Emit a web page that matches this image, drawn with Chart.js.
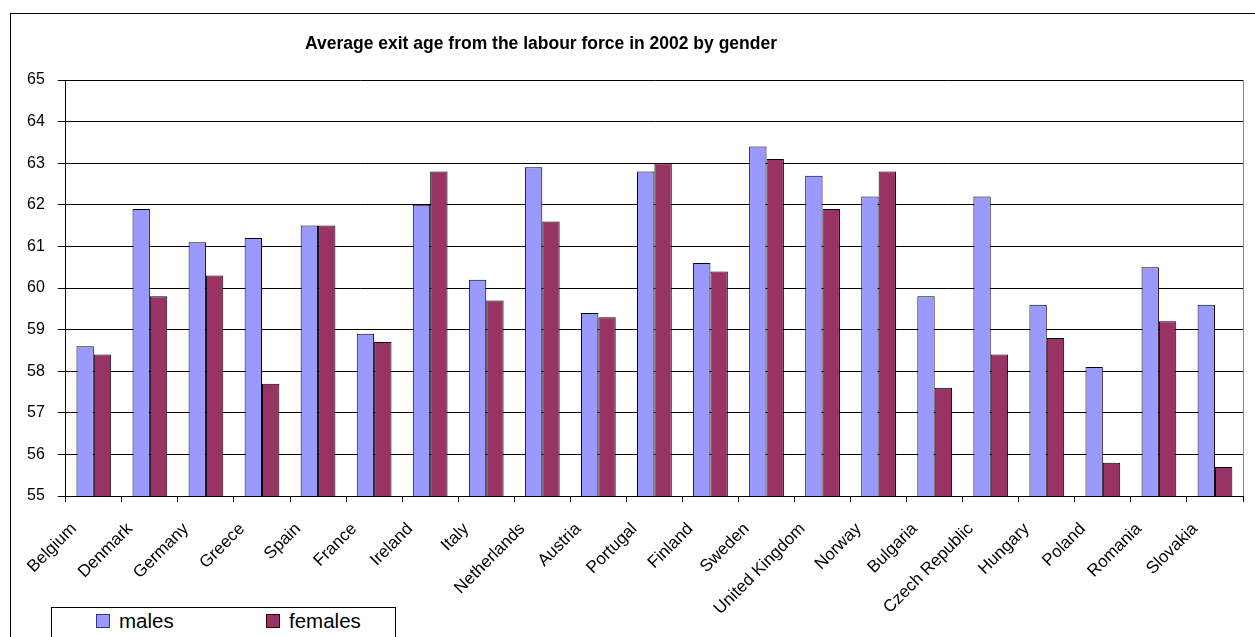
<!DOCTYPE html>
<html>
<head>
<meta charset="utf-8">
<script src="https://cdn.jsdelivr.net/npm/chart.js@4.4.1/dist/chart.umd.min.js"></script>
<style>
  html, body { margin: 0; padding: 0; background: #fff; overflow: hidden; width: 1255px; height: 637px; }
  #frame { position: absolute; left: 10px; top: 13px; width: 1270px; height: 640px; border: 1px solid #000; }
  #wrap { position: absolute; left: 0; top: 0; width: 1260px; height: 640px; }
  #titulo { position: absolute; left: 0; top: 33px; width: 1082px; text-align: center;
            font-family: Arial, "Liberation Sans", sans-serif; font-size: 17.5px; font-weight: bold; color: #000; }
  #legend { position: absolute; left: 51px; top: 607px; width: 343px; height: 40px; border: 1px solid #000; background: #fff;
            font-family: Arial, "Liberation Sans", sans-serif; font-size: 20.5px; color: #000; }
  .item { position: absolute; top: 1px; }
  .sw { display: inline-block; width: 12px; height: 12px; border: 1px solid #000; margin-right: 9px; vertical-align: 0px; }
</style>
</head>
<body>
<div id="frame">
  <div id="wrap"><canvas id="myChart"></canvas></div>
</div>
<div id="titulo">Average exit age from the labour force in 2002 by gender</div>
<div id="legend">
  <span class="item" style="left:44px"><span class="sw" style="background:#9999FF;border-color:#333399"></span>males</span>
  <span class="item" style="left:214px"><span class="sw" style="background:#993366;border-color:#330000"></span>females</span>
</div>
<script>
var paises = ["Belgium", "Denmark", "Germany", "Greece", "Spain", "France", "Ireland", "Italy", "Netherlands", "Austria",
  "Portugal", "Finland", "Sweden", "United Kingdom", "Norway", "Bulgaria", "Czech Republic", "Hungary", "Poland",
  "Romania", "Slovakia"];
var hombres = [58.6, 61.9, 61.1, 61.2, 61.5, 58.9, 62.0, 60.2, 62.9, 59.4, 62.8, 60.6, 63.4, 62.7, 62.2, 59.8, 62.2,
  59.6, 58.1, 60.5, 59.6];
var mujeres = [58.4, 59.8, 60.3, 57.7, 61.5, 58.7, 62.8, 59.7, 61.6, 59.3, 63.0, 60.4, 63.1, 61.9, 62.8, 57.6, 58.4,
  58.8, 55.8, 59.2, 55.7];
var ticksY = [55, 56, 57, 58, 59, 60, 61, 62, 63, 64, 65];

var fuente = "Arial, 'Liberation Sans', sans-serif";

// borde derecho del area de dibujo
var bordeDerecho = {
  id: 'bordeDerecho',
  afterDraw: function(chart) {
    var ctx = chart.ctx, a = chart.chartArea;
    ctx.save();
    ctx.strokeStyle = '#888';
    ctx.lineWidth = 1;
    ctx.beginPath();
    ctx.moveTo(Math.round(a.right) + 0.5, a.top);
    ctx.lineTo(Math.round(a.right) + 0.5, a.bottom);
    ctx.stroke();
    ctx.restore();
  }
};

var grafico = new Chart(document.getElementById("myChart").getContext("2d"), {
  type: 'bar',
  data: {
    labels: paises,
    datasets: [
      { label: 'males', data: hombres, backgroundColor: '#9999FF', borderColor: '#000', borderWidth: 1,
        categoryPercentage: 0.62, barPercentage: 1.0 },
      { label: 'females', data: mujeres, backgroundColor: '#993366', borderColor: '#000', borderWidth: 1,
        categoryPercentage: 0.62, barPercentage: 1.0 }
    ]
  },
  options: {
    responsive: true,
    maintainAspectRatio: false,
    animation: false,
    layout: { padding: { left: 3, right: 28, top: 66, bottom: 18 } },
    plugins: {
      legend: { display: false },
      tooltip: { enabled: false },
      title: { display: false }
    },
    scales: {
      x: {
        grid: { drawOnChartArea: false, drawTicks: true, tickLength: 6, color: '#000', offset: true },
        border: { color: '#000', width: 1 },
        ticks: {
          autoSkip: false, minRotation: 45, maxRotation: 45, color: '#000', labelOffset: -20, padding: 17,
          font: { family: fuente, size: 17 }
        }
      },
      y: {
        min: 55, max: 65,
        afterBuildTicks: function(axis) { axis.ticks = ticksY.map(function(v) { return { value: v }; }); },
        grid: { color: '#000', lineWidth: 1, tickLength: 8 },
        border: { color: '#000', width: 1 },
        ticks: { color: '#000', padding: 13, font: { family: fuente, size: 16 } }
      }
    }
  },
  plugins: [bordeDerecho]
});
</script>
</body>
</html>
